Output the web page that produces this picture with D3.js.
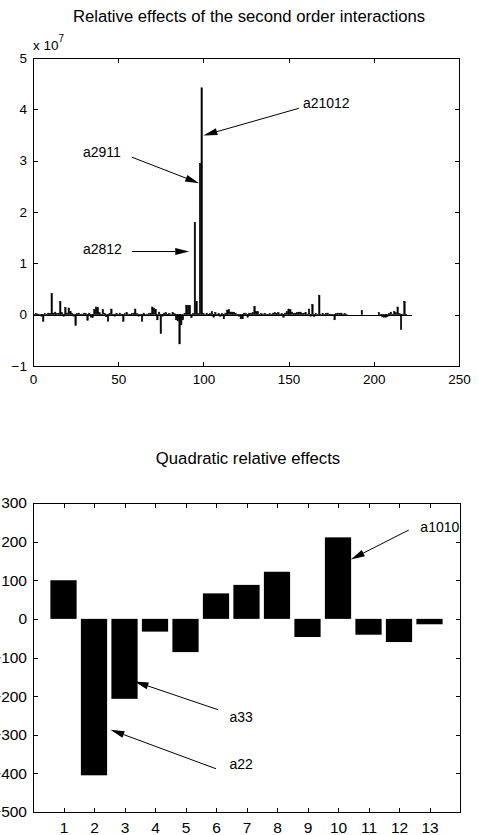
<!DOCTYPE html>
<html>
<head>
<meta charset="utf-8">
<script src="https://cdn.jsdelivr.net/npm/d3@7/dist/d3.min.js"></script>
<style>
  body { margin: 0; background: #fff; }
  svg { display: block; }
</style>
</head>
<body>
<svg id="fig" width="479" height="835"></svg>
<script>
// Second order interaction effects, in units of 1e7, for interaction terms 1..222
const interactionEffects = [
  0.01, 0.02, -0.02, 0.01, -0.03, -0.13, 0.02, 0.01, 0.03, 0.02,
  0.41, 0.03, 0.05, 0.02, 0.03, 0.26, 0.04, -0.03, 0.14, 0.03,
  0.13, 0.06, 0.02, -0.03, -0.21, 0.02, 0.03, -0.02, 0.01, 0.03,
  0.02, -0.11, 0.03, -0.05, -0.06, 0.10, 0.15, 0.14, 0.04, -0.02,
  0.10, 0.02, -0.04, -0.13, 0.02, 0.11, -0.02, -0.03, 0.02, 0.01,
  0.03, -0.02, -0.13, 0.02, 0.04, 0.01, -0.02, 0.02, 0.03, 0.11,
  0.02, -0.03, 0.01, -0.13, 0.03, -0.02, 0.01, 0.02, 0.03, 0.15,
  0.13, 0.10, -0.10, 0.05, -0.37, -0.03, 0.03, 0.04, -0.02, 0.02,
  0.01, 0.04, 0.02, -0.10, -0.12, -0.57, -0.20, -0.10, 0.02, 0.18,
  0.18, 0.18, -0.06, 0.02, 1.80, 0.26, 0.02, 2.95, 4.42, 0.02,
  0.01, 0.03, -0.02, 0.02, 0.06, -0.05, 0.04, 0.01, 0.02, -0.03,
  0.02, -0.08, 0.03, 0.09, 0.10, 0.05, 0.05, 0.04, 0.02, 0.01,
  -0.03, -0.08, -0.08, 0.03, 0.02, -0.05, 0.03, 0.02, 0.04, 0.16,
  0.06, 0.06, 0.01, 0.02, 0.01, 0.02, 0.01, -0.02, 0.02, 0.01,
  0.03, 0.04, 0.02, 0.04, 0.01, 0.02, -0.05, 0.03, 0.06, 0.11,
  0.10, 0.05, 0.02, 0.03, 0.04, 0.05, 0.05, 0.02, 0.03, 0.04,
  0.01, 0.11, -0.03, 0.20, -0.04, 0.02, 0.01, 0.38, 0.01, 0.02,
  0.01, 0.02, 0.03, 0.01, -0.02, 0.01, -0.10, 0.02, 0.03, 0.02,
  0.03, 0.01, 0.02, 0.01, 0, 0, 0, 0, 0, 0,
  0, 0, 0.08, 0, 0, 0, 0, 0, 0, 0,
  0, 0, 0.04, 0.01, -0.04, -0.05, -0.05, -0.04, 0.02, 0.05,
  0.01, 0.06, 0.04, 0.15, 0.02, -0.29, 0.01, 0.26, 0.01, 0,
  0, 0
];
const interactionXTicks = [0, 50, 100, 150, 200, 250];
const interactionYTicks = [-1, 0, 1, 2, 3, 4, 5];

// Quadratic relative effects for terms 1..13
const quadraticTerms = [1, 2, 3, 4, 5, 6, 7, 8, 9, 10, 11, 12, 13];
const quadraticEffects = [100, -405, -207, -33, -86, 66, 88, 122, -47, 211, -41, -60, -14];
const quadraticYTicks = [-500, -400, -300, -200, -100, 0, 100, 200, 300];

// Text arrows, in data coordinates: label anchor, arrow tail, arrow tip
const interactionNotes = [
  { label: "a21012", text: [158.4, 4.12], tail: [156.0, 4.02], tip: [100.0, 3.49] },
  { label: "a2911",  text: [29.3, 3.17],  tail: [57.9, 3.07],  tip: [97.5, 2.56] },
  { label: "a2812",  text: [29.3, 1.28],  tail: [58.1, 1.23],  tip: [91.7, 1.23] }
];
const quadraticNotes = [
  { label: "a1010", text: [12.70, 238], tail: [12.32, 230], tip: [10.42, 154] },
  { label: "a33",   text: [6.44, -253], tail: [6.06, -235], tip: [3.33, -162] },
  { label: "a22",   text: [6.44, -377], tail: [6.00, -388], tip: [2.54, -287] }
];

const svg = d3.select("#fig");
const TICK_FONT = "'Liberation Sans Narrow', 'Liberation Sans', Arial, sans-serif";
const TEXT_FONT = "'Liberation Sans', Arial, sans-serif";

function drawArrow(g, x0, y0, x1, y1) {
  const headLen = 14, headHalf = 3.5;
  const dx = x1 - x0, dy = y1 - y0, len = Math.hypot(dx, dy);
  const ux = dx / len, uy = dy / len;
  const bx = x1 - ux * headLen, by = y1 - uy * headLen;
  g.append("line")
    .attr("x1", x0).attr("y1", y0).attr("x2", bx).attr("y2", by)
    .attr("stroke", "#000").attr("stroke-width", 1);
  g.append("path")
    .attr("d", `M${x1},${y1}L${bx - uy * headHalf},${by + ux * headHalf}L${bx + uy * headHalf},${by - ux * headHalf}Z`)
    .attr("fill", "#000");
}

function styleTicks(sel, size, family) {
  sel.select(".domain").remove();
  sel.selectAll(".tick line").attr("stroke", "#000").attr("shape-rendering", "crispEdges");
  sel.selectAll(".tick text").attr("fill", "#000")
    .style("font-family", family).style("font-size", size + "px");
  sel.attr("font-family", null).attr("font-size", null);
}

function drawFrame(g, box, x, y, xTicks, yTicks, fmtX, fmtY, fontSize, family, xPad) {
  const { left, right, top, bottom } = box;
  g.append("g").attr("transform", `translate(0,${bottom})`)
    .call(d3.axisBottom(x).tickValues(xTicks).tickSize(-5).tickPadding(xPad).tickFormat(fmtX))
    .call(s => styleTicks(s, fontSize, family));
  g.append("g").attr("transform", `translate(0,${top})`)
    .call(d3.axisTop(x).tickValues(xTicks).tickSize(-5).tickFormat(""))
    .call(s => styleTicks(s, fontSize, family));
  g.append("g").attr("transform", `translate(${left},0)`)
    .call(d3.axisLeft(y).tickValues(yTicks).tickSize(-5).tickPadding(6).tickFormat(fmtY))
    .call(s => styleTicks(s, fontSize, family));
  g.append("g").attr("transform", `translate(${right},0)`)
    .call(d3.axisRight(y).tickValues(yTicks).tickSize(-5).tickFormat(""))
    .call(s => styleTicks(s, fontSize, family));
  g.append("rect")
    .attr("x", left + 0.5).attr("y", top + 0.5)
    .attr("width", right - left - 1).attr("height", bottom - top - 1)
    .attr("fill", "none").attr("stroke", "#000").attr("stroke-width", 1)
    .attr("shape-rendering", "crispEdges");
}

// ---------- Upper panel: second order interactions ----------
{
  const box = { left: 33, right: 460, top: 58, bottom: 367 };
  const x = d3.scaleLinear().domain([0, 250]).range([box.left, box.right - 1]);
  const y = d3.scaleLinear().domain([-1, 5]).range([box.bottom - 1, box.top]);
  const g = svg.append("g");

  svg.append("text")
    .attr("x", 249).attr("y", 21.5).attr("text-anchor", "middle")
    .style("font-family", TEXT_FONT).style("font-size", "16.7px")
    .text("Relative effects of the second order interactions");

  const barW = x(0.85) - x(0);
  g.append("line")
    .attr("x1", x(0.6)).attr("x2", x(interactionEffects.length + 0.4))
    .attr("y1", Math.round(y(0)) + 0.5).attr("y2", Math.round(y(0)) + 0.5)
    .attr("stroke", "#000").attr("stroke-width", 1);
  g.selectAll("rect.bar").data(interactionEffects).join("rect")
    .attr("class", "bar")
    .attr("x", (d, i) => x(i + 1) - barW / 2)
    .attr("width", barW)
    .attr("y", d => y(Math.max(d, 0)))
    .attr("height", d => Math.abs(y(d) - y(0)))
    .attr("fill", "#000")
    .attr("stroke", "#000").attr("stroke-width", 0.5);

  drawFrame(g, box, x, y, interactionXTicks, interactionYTicks,
            d3.format("d"), d3.format("d"), 13.5, TICK_FONT, 7);

  // exponent label above the y axis
  const ex = svg.append("text").attr("x", box.left).attr("y", 50)
    .style("font-family", TICK_FONT).style("font-size", "13.5px");
  ex.append("tspan").text("x 10");
  ex.append("tspan").attr("dy", -8).style("font-size", "10px").text("7");

  interactionNotes.forEach(n => {
    drawArrow(g, x(n.tail[0]), y(n.tail[1]), x(n.tip[0]), y(n.tip[1]));
    g.append("text").attr("x", x(n.text[0])).attr("y", y(n.text[1]))
      .attr("dominant-baseline", "central")
      .style("font-family", TEXT_FONT).style("font-size", "14px")
      .text(n.label);
  });
}

// ---------- Lower panel: quadratic effects ----------
{
  const box = { left: 33, right: 461, top: 503, bottom: 813 };
  const x = d3.scaleLinear().domain([0, 14]).range([box.left, box.right - 1]);
  const y = d3.scaleLinear().domain([-500, 300]).range([box.bottom - 1, box.top]);
  const g = svg.append("g");

  svg.append("text")
    .attr("x", 248).attr("y", 464).attr("text-anchor", "middle")
    .style("font-family", TEXT_FONT).style("font-size", "16.7px")
    .text("Quadratic relative effects");

  svg.append("clipPath").attr("id", "quadClip")
    .append("rect").attr("x", box.left).attr("y", box.top)
    .attr("width", box.right - box.left - 1).attr("height", box.bottom - box.top);

  const barW = x(0.86) - x(0);
  g.selectAll("rect.qbar").data(quadraticEffects).join("rect")
    .attr("class", "qbar")
    .attr("x", (d, i) => x(quadraticTerms[i]) - barW / 2)
    .attr("width", barW)
    .attr("y", d => y(Math.max(d, 0)))
    .attr("height", d => Math.abs(y(d) - y(0)))
    .attr("fill", "#000");

  const notes = g.append("g").attr("clip-path", "url(#quadClip)");
  quadraticNotes.forEach(n => {
    drawArrow(notes, x(n.tail[0]), y(n.tail[1]), x(n.tip[0]), y(n.tip[1]));
    notes.append("text").attr("x", x(n.text[0])).attr("y", y(n.text[1]))
      .attr("dominant-baseline", "central")
      .style("font-family", TEXT_FONT).style("font-size", "14px")
      .text(n.label);
  });

  drawFrame(g, box, x, y, quadraticTerms, quadraticYTicks,
            d3.format("d"), d3.format("d"), 15.5, TEXT_FONT, 9);
}
</script>
</body>
</html>
